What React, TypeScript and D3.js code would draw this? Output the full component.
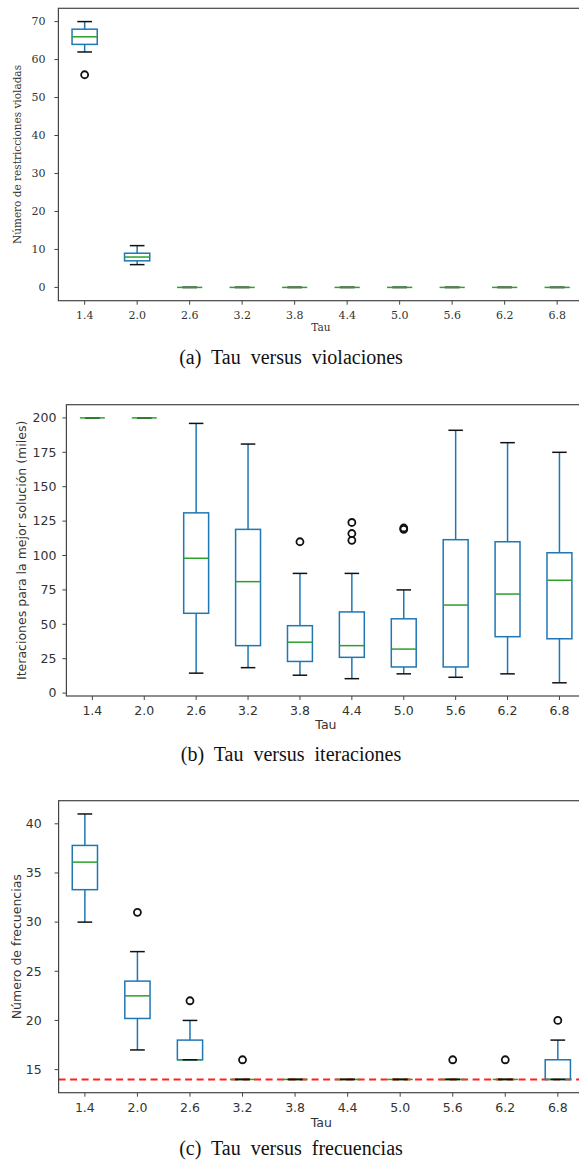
import React from "react";
import * as d3 from "d3";

const taus = ["1.4", "2.0", "2.6", "3.2", "3.8", "4.4", "5.0", "5.6", "6.2", "6.8"];

// (a) violaciones
const violLow = [62, 6, 0, 0, 0, 0, 0, 0, 0, 0];
const violQ1 = [64, 7, 0, 0, 0, 0, 0, 0, 0, 0];
const violMed = [66, 8, 0, 0, 0, 0, 0, 0, 0, 0];
const violQ3 = [68, 9, 0, 0, 0, 0, 0, 0, 0, 0];
const violHigh = [70, 11, 0, 0, 0, 0, 0, 0, 0, 0];
const violOut = [[56], [], [], [], [], [], [], [], [], []];
const violTicks = [0, 10, 20, 30, 40, 50, 60, 70];

// (b) iteraciones
const iterLow = [200, 200, 14.5, 18.5, 13, 10.5, 14, 11.5, 14, 7.5];
const iterQ1 = [200, 200, 58, 34.5, 23, 26, 19, 19, 41, 39.5];
const iterMed = [200, 200, 98, 81, 37, 34.5, 32, 64, 72, 82];
const iterQ3 = [200, 200, 131, 119, 49, 59, 54, 111.5, 110, 102];
const iterHigh = [200, 200, 196, 181, 87, 87, 75, 191, 182, 175];
const iterOut = [[], [], [], [], [110], [124, 116, 111], [120, 119], [], [], []];
const iterTicks = [0, 25, 50, 75, 100, 125, 150, 175, 200];

// (c) frecuencias
const freqLow = [30, 17, 16, 14, 14, 14, 14, 14, 14, 14];
const freqQ1 = [33.3, 20.2, 16, 14, 14, 14, 14, 14, 14, 14];
const freqMed = [36.1, 22.5, 16, 14, 14, 14, 14, 14, 14, 14];
const freqQ3 = [37.8, 24, 18, 14, 14, 14, 14, 14, 14, 16];
const freqHigh = [41, 27, 20, 14, 14, 14, 14, 14, 14, 18];
const freqOut = [[], [31], [22], [16], [], [], [], [16], [16], [20]];
const freqTicks = [15, 20, 25, 30, 35, 40];
const freqBaseline = 14;

const BLUE = "#1f77b4";
const GREEN = "#2ca02c";
const TEXT = "#333";

type PanelProps = {
  left: number; top: number; bottom: number; step: number;
  yDomain: [number, number];
  low: number[]; q1: number[]; med: number[]; q3: number[]; high: number[]; out: number[][];
  ticks: number[];
  font: string; tickSize: number; labelSize: number;
  ylabel: string; ylabelX: number; ytickGap: number;
  xlabelY: number; xtickY: number;
  capsOnTop: boolean;
  baseline?: number;
  caption: string; captionY: number;
};

function Panel(p: PanelProps) {
  const right = p.left + p.step * taus.length;
  const x = d3.scalePoint<string>().domain(taus).range([p.left, right]).padding(0.5);
  const y = d3.scaleLinear().domain(p.yDomain).range([p.bottom, p.top]);
  const bw = p.step * 0.48;
  const cw = p.step * 0.28;
  const cx = (right + p.left) / 2;
  return (
    <g>
      {p.baseline !== undefined && (
        <line x1={p.left} x2={right} y1={y(p.baseline)} y2={y(p.baseline)}
          stroke="#ff2020" strokeWidth={2} strokeDasharray="7,4.5" />
      )}
      {taus.map((t, i) => {
        const xc = x(t)!;
        const caps = (
          <g>
            <line x1={xc - cw / 2} x2={xc + cw / 2} y1={y(p.low[i])} y2={y(p.low[i])} stroke="#111" strokeWidth={1.5} />
            <line x1={xc - cw / 2} x2={xc + cw / 2} y1={y(p.high[i])} y2={y(p.high[i])} stroke="#111" strokeWidth={1.5} />
          </g>
        );
        const median = (
          <line x1={xc - bw / 2} x2={xc + bw / 2} y1={y(p.med[i])} y2={y(p.med[i])} stroke={GREEN} strokeWidth={1.5} />
        );
        return (
          <g key={t}>
            <rect x={xc - bw / 2} y={y(p.q3[i])} width={bw} height={Math.max(0, y(p.q1[i]) - y(p.q3[i]))}
              fill="none" stroke={BLUE} strokeWidth={1.5} />
            <line x1={xc} x2={xc} y1={y(p.q3[i])} y2={y(p.high[i])} stroke={BLUE} strokeWidth={1.5} />
            <line x1={xc} x2={xc} y1={y(p.q1[i])} y2={y(p.low[i])} stroke={BLUE} strokeWidth={1.5} />
            {p.capsOnTop ? <>{median}{caps}</> : <>{caps}{median}</>}
            {p.out[i].map((v, j) => (
              <circle key={j} cx={xc} cy={y(v)} r={3.5} fill="none" stroke="#111" strokeWidth={1.8} />
            ))}
          </g>
        );
      })}
      <rect x={p.left} y={p.top} width={right - p.left} height={p.bottom - p.top} fill="none" stroke="#444" strokeWidth={1.2} />
      {p.ticks.map((v) => (
        <g key={v}>
          <line x1={p.left - 4} x2={p.left} y1={y(v)} y2={y(v)} stroke="#444" strokeWidth={1} />
          <text x={p.left - p.ytickGap} y={y(v)} dy="0.35em" textAnchor="end" fontFamily={p.font}
            fontSize={p.tickSize} fill={TEXT}>{v}</text>
        </g>
      ))}
      {taus.map((t) => (
        <g key={t}>
          <line x1={x(t)!} x2={x(t)!} y1={p.bottom} y2={p.bottom + 4} stroke="#444" strokeWidth={1} />
          <text x={x(t)!} y={p.xtickY} dy="0.35em" textAnchor="middle" fontFamily={p.font}
            fontSize={p.tickSize} fill={TEXT}>{t}</text>
        </g>
      ))}
      <text x={cx} y={p.xlabelY} dy="0.35em" textAnchor="middle" fontFamily={p.font} fontSize={p.labelSize} fill={TEXT}>Tau</text>
      <text transform={`translate(${p.ylabelX},${(p.top + p.bottom) / 2}) rotate(-90)`} dy="0.35em" textAnchor="middle"
        fontFamily={p.font} fontSize={p.labelSize} fill={TEXT}>{p.ylabel}</text>
      <text x={291} y={p.captionY} dy="0.35em" textAnchor="middle" fontFamily="Liberation Serif, serif" fontSize={20}
        wordSpacing={5} fill="#111">
        {p.caption}
      </text>
    </g>
  );
}

export default function App() {
  return (
    <div style={{ position: "absolute", left: 0, top: 0 }}>
      <svg width={579} height={1163} style={{ display: "block", background: "#fff" }}>
        <Panel left={58.4} top={8.3} bottom={300.7} step={52.5} yDomain={[-3.5, 73.5]}
          low={violLow} q1={violQ1} med={violMed} q3={violQ3} high={violHigh} out={violOut}
          ticks={violTicks} font="DejaVu Serif, serif" tickSize={11} labelSize={10.5}
          ylabel="Número de restricciones violadas" ylabelX={17} ytickGap={13}
          xlabelY={327} xtickY={315} capsOnTop={false}
          caption="(a) Tau versus violaciones" captionY={357} />
        <Panel left={66.4} top={404.7} bottom={696} step={51.9} yDomain={[-2.1, 209.6]}
          low={iterLow} q1={iterQ1} med={iterMed} q3={iterQ3} high={iterHigh} out={iterOut}
          ticks={iterTicks} font="DejaVu Sans, sans-serif" tickSize={12.5} labelSize={12.5}
          ylabel="Iteraciones para la mejor solución (miles)" ylabelX={21.5} ytickGap={10}
          xlabelY={725} xtickY={710.5} capsOnTop={false}
          caption="(b) Tau versus iteraciones" captionY={754} />
        <Panel left={58.6} top={800.7} bottom={1092.7} step={52.55} yDomain={[12.65, 42.35]}
          low={freqLow} q1={freqQ1} med={freqMed} q3={freqQ3} high={freqHigh} out={freqOut}
          ticks={freqTicks} font="DejaVu Sans, sans-serif" tickSize={12.5} labelSize={12.5}
          ylabel="Número de frecuencias" ylabelX={17} ytickGap={17}
          xlabelY={1123} xtickY={1107.5} capsOnTop={true} baseline={freqBaseline}
          caption="(c) Tau versus frecuencias" captionY={1148} />
      </svg>
    </div>
  );
}
